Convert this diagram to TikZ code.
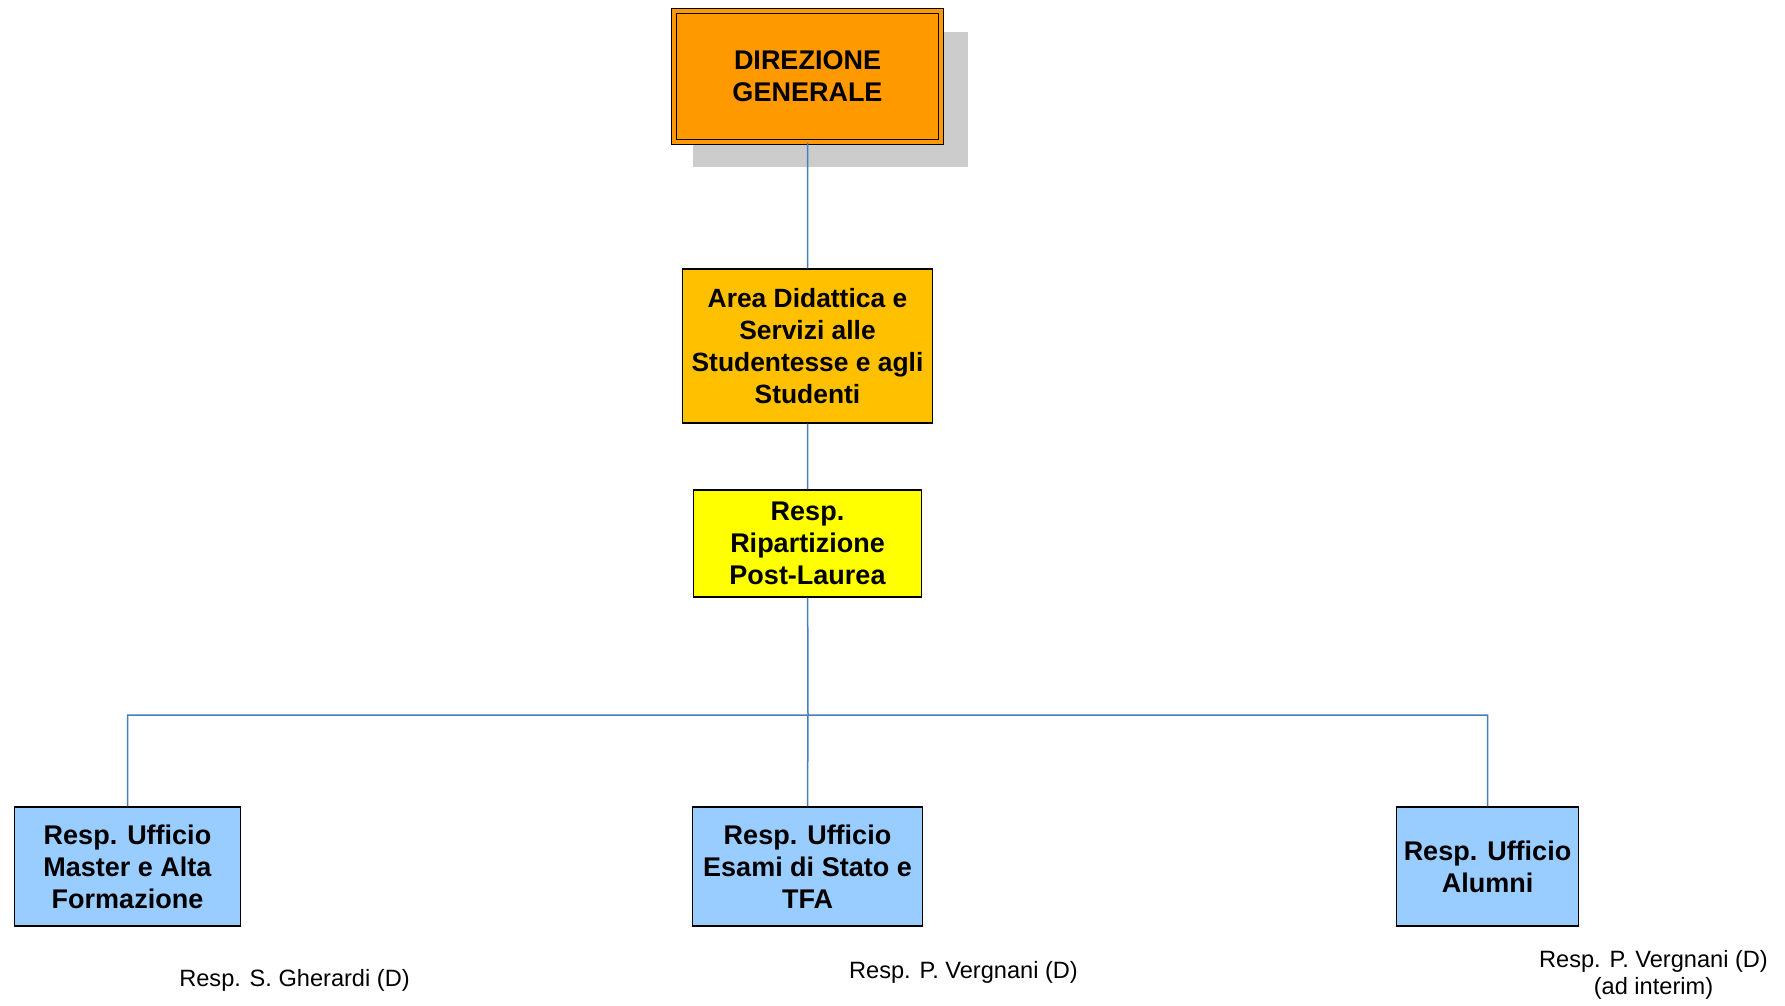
\documentclass[tikz,border=0pt]{standalone}
\usepackage{fontspec}
\setmainfont{Liberation Sans}
\usetikzlibrary{positioning}
\usetikzlibrary{shadows}
\definecolor{dgorange}{HTML}{FF9900}
\definecolor{areaorange}{HTML}{FFC000}
\definecolor{respyellow}{HTML}{FFFF00}
\definecolor{officeblue}{HTML}{99CCFF}
\definecolor{linkblue}{HTML}{4A7EBB}
\definecolor{shadowgray}{HTML}{CCCCCC}
\tikzset{node distance=100pt, % centre to centre, shifted per node below
every box/.style={ % common look of the boxes
draw=black,
line width=0.6pt,
inner sep=0pt,
align=center,
font=\bfseries\fontsize{13.5}{16}\selectfont},
topbox/.style={every box,
fill=dgorange,
double=dgorange, double distance=1.6pt, line width=0.7pt,
minimum width=133.5pt, minimum height=65.5pt,
drop shadow={shadow xshift=11pt, shadow yshift=-11pt, shadow scale=1.03, fill=shadowgray, opacity=1}},
areabox/.style={every box, fill=areaorange,
minimum width=125pt, minimum height=77pt,
font=\bfseries\fontsize{13.2}{16}\selectfont},
respbox/.style={every box, fill=respyellow,
minimum width=114pt, minimum height=53.5pt},
officebox/.style={every box, fill=officeblue,
minimum height=59.5pt},
namelabel/.style={align=center, inner sep=0pt,
font=\fontsize{11.8}{13.8}\selectfont},
link/.style={draw=linkblue, line width=0.75pt}}

\begin{document}
\begin{tikzpicture}[x=0.5pt,y=-0.5pt]
                \useasboundingbox (0,0) rectangle (1785,1006);

                \node[topbox] (dg) at (807.5,76.5) {DIREZIONE\\GENERALE};
                \node[areabox, below of = dg, yshift=-34.75pt] (area) {Area Didattica e\\Servizi alle\\Studentesse e agli\\Studenti};
                \node[respbox, below of = area, yshift=1.25pt] (resp) {Resp.\\Ripartizione\\Post-Laurea};
                \node[officebox, minimum width=115pt, below of = resp, yshift=-61.5pt] (esami) {Resp. Ufficio\\Esami di Stato e\\TFA};
                \node[officebox, minimum width=113pt, left of = esami, xshift=-240pt] (master) {Resp. Ufficio\\Master e Alta\\Formazione};
                \node[officebox, minimum width=91pt, right of = esami, xshift=240pt] (alumni) {Resp. Ufficio\\Alumni};

                \node[namelabel, below of = master, xshift=83.5pt, yshift=43.25pt] (masterresp) {Resp. S. Gherardi (D)};
                \node[namelabel, below of = esami, xshift=78pt, yshift=47.25pt] (esamiresp) {Resp. P. Vergnani (D)};
                \node[namelabel, below of = alumni, xshift=83pt, yshift=45.75pt] (alumniresp) {Resp. P. Vergnani (D)\\(ad interim)};

                \coordinate (fork) at (808,715);

                \draw[link] (dg) -- (area)
                (area) -- (resp)
                (resp) -- (fork)
                (fork) -| (master.north)
                (fork) -- (esami.north)
                (fork) -| (alumni.north);
            \end{tikzpicture}
\end{document}
